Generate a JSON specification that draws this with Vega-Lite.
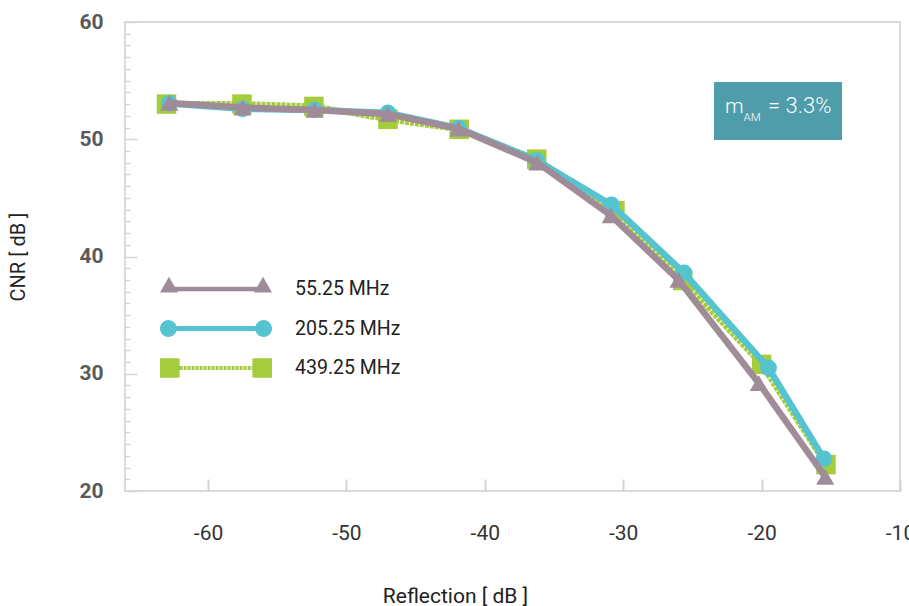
{
  "$schema": "https://vega.github.io/schema/vega-lite/v6.json",
  "width": 775,
  "height": 469,
  "autosize": {"type": "none"},
  "padding": {"left": 125, "top": 22, "right": 9, "bottom": 115},
  "background": "#ffffff",
  "config": {
    "view": {"stroke": "#d9d9d9", "strokeWidth": 2},
    "font": "Roboto, sans-serif"
  },
  "data": {
    "values": [
      {"freq": "55.25 MHz", "reflection": -62.8, "cnr": 53.1},
      {"freq": "55.25 MHz", "reflection": -57.5, "cnr": 52.7},
      {"freq": "55.25 MHz", "reflection": -52.3, "cnr": 52.5},
      {"freq": "55.25 MHz", "reflection": -47.0, "cnr": 52.15},
      {"freq": "55.25 MHz", "reflection": -41.9, "cnr": 50.9},
      {"freq": "55.25 MHz", "reflection": -36.2, "cnr": 48.0},
      {"freq": "55.25 MHz", "reflection": -30.9, "cnr": 43.5},
      {"freq": "55.25 MHz", "reflection": -26.0, "cnr": 38.0},
      {"freq": "55.25 MHz", "reflection": -20.2, "cnr": 29.2},
      {"freq": "55.25 MHz", "reflection": -15.4, "cnr": 21.2},
      {"freq": "205.25 MHz", "reflection": -62.8, "cnr": 53.05},
      {"freq": "205.25 MHz", "reflection": -57.5, "cnr": 52.6},
      {"freq": "205.25 MHz", "reflection": -52.3, "cnr": 52.5},
      {"freq": "205.25 MHz", "reflection": -47.0, "cnr": 52.25},
      {"freq": "205.25 MHz", "reflection": -41.9, "cnr": 50.95},
      {"freq": "205.25 MHz", "reflection": -36.25, "cnr": 48.2},
      {"freq": "205.25 MHz", "reflection": -30.85, "cnr": 44.4},
      {"freq": "205.25 MHz", "reflection": -25.6, "cnr": 38.6},
      {"freq": "205.25 MHz", "reflection": -19.5, "cnr": 30.5},
      {"freq": "205.25 MHz", "reflection": -15.5, "cnr": 22.75},
      {"freq": "439.25 MHz", "reflection": -63.0, "cnr": 53.0},
      {"freq": "439.25 MHz", "reflection": -57.55, "cnr": 53.0},
      {"freq": "439.25 MHz", "reflection": -52.35, "cnr": 52.8},
      {"freq": "439.25 MHz", "reflection": -47.0, "cnr": 51.7},
      {"freq": "439.25 MHz", "reflection": -41.85, "cnr": 50.85},
      {"freq": "439.25 MHz", "reflection": -36.25, "cnr": 48.3},
      {"freq": "439.25 MHz", "reflection": -30.6, "cnr": 43.9},
      {"freq": "439.25 MHz", "reflection": -25.7, "cnr": 37.95},
      {"freq": "439.25 MHz", "reflection": -20.0, "cnr": 30.8},
      {"freq": "439.25 MHz", "reflection": -15.35, "cnr": 22.25}
    ]
  },
  "encoding": {
    "x": {
      "field": "reflection",
      "type": "quantitative",
      "scale": {"domain": [-66, -10], "nice": false, "zero": false},
      "axis": {
        "title": "Reflection [ dB ]",
        "values": [-60, -50, -40, -30, -20, -10],
        "labelExpr": "'' + datum.value",
        "domain": false,
        "grid": false,
        "tickSize": -12,
        "tickColor": "#d4d4d4",
        "tickWidth": 2,
        "labelPadding": 43,
        "labelFlush": false,
        "labelFontSize": 21,
        "labelColor": "#333333",
        "labelFont": "Roboto, sans-serif",
        "titleFont": "Roboto, sans-serif",
        "titleFontSize": 21,
        "titleFontWeight": "normal",
        "titleColor": "#222222",
        "titleX": 330,
        "titleY": 105,
        "titleBaseline": "middle",
        "titleAnchor": "middle"
      }
    },
    "y": {
      "field": "cnr",
      "type": "quantitative",
      "scale": {"domain": [20, 60], "nice": false, "zero": false},
      "axis": {
        "title": "CNR [ dB ]",
        "values": [20,21,22,23,24,25,26,27,28,29,30,31,32,33,34,35,36,37,38,39,40,41,42,43,44,45,46,47,48,49,50,51,52,53,54,55,56,57,58,59,60],
        "labelExpr": "datum.value % 10 === 0 ? datum.label : ''",
        "domain": false,
        "grid": false,
        "tickSize": {"condition": {"test": "datum.value % 10 === 0", "value": -12}, "value": -5},
        "tickColor": "#d4d4d4",
        "tickWidth": 1.5,
        "labelPadding": 34,
        "labelFontSize": 21,
        "labelFontWeight": "bold",
        "labelColor": "#5a5a5a",
        "labelFont": "Roboto, sans-serif",
        "titleFont": "Roboto, sans-serif",
        "titleFontSize": 20,
        "titleFontWeight": "normal",
        "titleColor": "#222222",
        "titleX": -107,
        "titleY": 234.5,
        "titleBaseline": "middle",
        "titleAngle": -90
      }
    },
    "color": {
      "field": "freq",
      "type": "nominal",
      "scale": {
        "domain": ["55.25 MHz", "205.25 MHz", "439.25 MHz"],
        "range": ["#a08b98", "#55c4d0", "#a5cc3a"]
      },
      "legend": {
        "title": null,
        "orient": "none",
        "legendX": 35,
        "legendY": 257,
        "padding": 0,
        "symbolSize": 400,
        "symbolStrokeWidth": 0,
        "labelOffset": 115,
        "labelFontSize": 19.5,
        "labelColor": "#222222",
        "labelFont": "Roboto, sans-serif",
        "rowPadding": 19.5,
        "encode": {
          "symbols": {
            "update": {
              "shape": {"signal": "datum.value === '55.25 MHz' ? 'M-1,0.34L-0.1,-1.23L0.8,0.34ZM8.4,0.34L9.3,-1.23L10.2,0.34ZM-0.1,-0.22L9.3,-0.22L9.3,0.22L-0.1,0.22Z' : datum.value === '205.25 MHz' ? 'M-1,0A0.84,0.84 0 1,1 0.68,0A0.84,0.84 0 1,1 -1,0ZM8.52,0A0.84,0.84 0 1,1 10.2,0A0.84,0.84 0 1,1 8.52,0ZM0.6,-0.25L8.6,-0.25L8.6,0.25L0.6,0.25Z' : 'M-1,-0.98L0.96,-0.98L0.96,0.98L-1,0.98ZM8.24,-0.98L10.2,-0.98L10.2,0.98L8.24,0.98ZM0.9,-0.2h0.36v0.4h-0.36ZM1.36,-0.2h0.3v0.4h-0.3ZM1.76,-0.2h0.3v0.4h-0.3ZM2.16,-0.2h0.3v0.4h-0.3ZM2.56,-0.2h0.3v0.4h-0.3ZM2.96,-0.2h0.3v0.4h-0.3ZM3.36,-0.2h0.3v0.4h-0.3ZM3.76,-0.2h0.3v0.4h-0.3ZM4.16,-0.2h0.3v0.4h-0.3ZM4.56,-0.2h0.3v0.4h-0.3ZM4.96,-0.2h0.3v0.4h-0.3ZM5.36,-0.2h0.3v0.4h-0.3ZM5.76,-0.2h0.3v0.4h-0.3ZM6.16,-0.2h0.3v0.4h-0.3ZM6.56,-0.2h0.3v0.4h-0.3ZM6.96,-0.2h0.3v0.4h-0.3ZM7.36,-0.2h0.3v0.4h-0.3ZM7.76,-0.2h0.3v0.4h-0.3ZM8.16,-0.2h0.14v0.4h-0.14Z'"},
              "fill": {"scale": "color", "field": "value"},
              "stroke": {"value": "transparent"},
              "strokeWidth": {"value": 0},
              "opacity": {"value": 1},
              "fillOpacity": {"value": 1}
            }
          }
        }
      }
    }
  },
  "layer": [
    {
      "data": {"values": [{"x1": -23.44, "x2": -14.19, "y1": 54.88, "y2": 49.94}]},
      "mark": {"type": "rect", "color": "#4f9cab"},
      "encoding": {
        "x": {"field": "x1", "type": "quantitative"},
        "x2": {"field": "x2"},
        "y": {"field": "y1", "type": "quantitative"},
        "y2": {"field": "y2"},
        "color": null
      }
    },
    {
      "transform": [{"filter": "datum.freq === '439.25 MHz'"}],
      "mark": {"type": "line", "strokeWidth": 6, "strokeDash": [4, 1]}
    },
    {
      "transform": [{"filter": "datum.freq === '439.25 MHz'"}],
      "mark": {"type": "point", "shape": "square", "filled": true, "size": 380, "opacity": 1}
    },
    {
      "transform": [{"filter": "datum.freq === '205.25 MHz'"}],
      "mark": {"type": "line", "strokeWidth": 6.5}
    },
    {
      "transform": [{"filter": "datum.freq === '205.25 MHz'"}],
      "mark": {"type": "point", "shape": "circle", "filled": true, "size": 280, "opacity": 1}
    },
    {
      "transform": [{"filter": "datum.freq === '55.25 MHz'"}],
      "mark": {"type": "line", "strokeWidth": 6.5}
    },
    {
      "transform": [{"filter": "datum.freq === '55.25 MHz'"}],
      "mark": {"type": "point", "shape": "triangle-up", "filled": true, "size": 330, "opacity": 1}
    },
    {
      "data": {"values": [{"label": "m", "x": -22.64, "y": 52.24}]},
      "mark": {"type": "text", "align": "left", "baseline": "alphabetic", "fontSize": 21, "fontWeight": 300, "font": "Roboto, sans-serif", "color": "#ffffff"},
      "encoding": {"x": {"field": "x", "type": "quantitative"}, "y": {"field": "y", "type": "quantitative"}, "text": {"field": "label"}, "color": null}
    },
    {
      "data": {"values": [{"label": "AM", "x": -21.3, "y": 51.56}]},
      "mark": {"type": "text", "align": "left", "baseline": "alphabetic", "fontSize": 11.5, "fontWeight": 300, "font": "Roboto, sans-serif", "color": "#ffffff"},
      "encoding": {"x": {"field": "x", "type": "quantitative"}, "y": {"field": "y", "type": "quantitative"}, "text": {"field": "label"}, "color": null}
    },
    {
      "data": {"values": [{"label": "= 3.3%", "x": -19.54, "y": 52.24}]},
      "mark": {"type": "text", "align": "left", "baseline": "alphabetic", "fontSize": 22, "fontWeight": 300, "font": "Roboto, sans-serif", "color": "#ffffff"},
      "encoding": {"x": {"field": "x", "type": "quantitative"}, "y": {"field": "y", "type": "quantitative"}, "text": {"field": "label"}, "color": null}
    }
  ]
}
